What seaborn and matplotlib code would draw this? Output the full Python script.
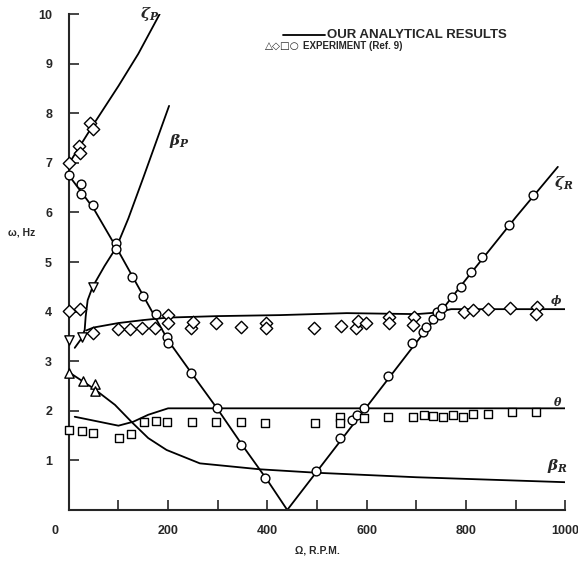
import numpy as np
import pandas as pd
import matplotlib
matplotlib.use('Agg')
import matplotlib.pyplot as plt
import seaborn as sns

# analytical curves
zeta_p_x = [0, 50, 100, 140, 183]
zeta_p_y = [6.98, 7.78, 8.55, 9.2, 10.0]

beta_p_x = [12, 25, 32, 34, 38, 48, 72, 96, 120, 150, 202]
beta_p_y = [3.27, 3.45, 3.63, 3.9, 4.23, 4.5, 4.92, 5.3, 5.88, 6.7, 8.15]

phi_x = [35, 50, 100, 150, 200, 300, 425, 560, 700, 740, 770, 1000]
phi_y = [3.62, 3.68, 3.77, 3.83, 3.88, 3.91, 3.93, 3.97, 3.95, 3.98, 4.05, 4.05]

theta_x = [12, 100, 130, 160, 200, 1000]
theta_y = [1.88, 1.70, 1.78, 1.92, 2.05, 2.05]

beta_r_x = [0, 50, 93, 127, 160, 197, 264, 385, 500, 700, 1000]
beta_r_y = [2.78, 2.45, 2.12, 1.77, 1.45, 1.21, 0.94, 0.82, 0.75, 0.66, 0.56]

zeta_r_x = [0, 50, 100, 150, 200, 250, 300, 350, 400, 440, 500, 600, 700, 800, 900, 985]
zeta_r_y = [6.75, 6.08, 5.22, 4.32, 3.42, 2.72, 2.03, 1.3, 0.6, 0.0, 0.78, 2.08, 3.38, 4.65, 5.9, 6.92]

# experiment (Ref. 9)
circ_x = [0, 24, 24, 48, 96, 96, 128, 149, 176, 198, 199, 247, 298, 347, 395,
          498, 546, 570, 580, 595, 643, 692, 714, 720, 734, 742, 748, 752, 772,
          790, 810, 833, 887, 935]
circ_y = [6.75, 6.57, 6.38, 6.15, 5.38, 5.26, 4.70, 4.31, 3.95, 3.49, 3.37, 2.76,
          2.06, 1.31, 0.65, 0.79, 1.45, 1.81, 1.92, 2.06, 2.70, 3.37, 3.59, 3.69,
          3.85, 3.99, 3.93, 4.07, 4.30, 4.50, 4.80, 5.10, 5.75, 6.35]

diam_x = [0, 20, 22, 43, 49, 0, 22, 48, 100, 123, 147, 173, 200, 200, 247, 250,
          296, 347, 397, 397, 494, 548, 579, 583, 599, 645, 645, 696, 694, 795,
          814, 845, 889, 944, 942]
diam_y = [7.0, 7.35, 7.2, 7.8, 7.68, 4.01, 4.05, 3.57, 3.65, 3.65, 3.67, 3.67,
          3.93, 3.77, 3.67, 3.8, 3.77, 3.7, 3.78, 3.68, 3.67, 3.71, 3.67, 3.81,
          3.77, 3.9, 3.77, 3.9, 3.73, 3.99, 4.03, 4.05, 4.07, 4.1, 3.95]

sq_x = [0, 26, 48, 101, 125, 151, 175, 198, 248, 296, 347, 395, 496, 546, 546,
        595, 643, 694, 716, 734, 754, 774, 794, 815, 845, 893, 942]
sq_y = [1.61, 1.59, 1.55, 1.46, 1.53, 1.78, 1.8, 1.78, 1.78, 1.77, 1.78, 1.75,
        1.75, 1.88, 1.75, 1.86, 1.88, 1.88, 1.92, 1.9, 1.88, 1.92, 1.88, 1.94,
        1.94, 1.98, 1.98]

tri_up_x = [0, 28, 52, 52]
tri_up_y = [2.76, 2.6, 2.55, 2.4]

tri_dn_x = [0, 26, 48]
tri_dn_y = [3.43, 3.49, 4.5]

x_ticks = list(range(0, 1001, 100))
x_labels = ['' if (t % 200 or t == 0) else str(t) for t in x_ticks]
y_ticks = list(range(0, 11))
y_labels = [''] + [str(t) for t in y_ticks[1:]]

sns.set_style("ticks")
plt.rcParams['font.family'] = ['Liberation Sans', 'DejaVu Sans']
plt.rcParams['font.weight'] = 'bold'
plt.rcParams['mathtext.fontset'] = 'dejavuserif'

fig = plt.figure(figsize=(5.78, 5.66), dpi=100, facecolor='white')
ax = fig.add_axes([0.119, 0.099, 0.859, 0.876])

curves = [(zeta_p_x, zeta_p_y), (beta_p_x, beta_p_y), (phi_x, phi_y),
          (theta_x, theta_y), (beta_r_x, beta_r_y), (zeta_r_x, zeta_r_y)]
for cx, cy in curves:
    sns.lineplot(x=cx, y=cy, ax=ax, sort=False, estimator=None,
                 color='black', linewidth=1.3)

mk = dict(facecolor='white', edgecolor='black', linewidth=1.0, clip_on=False, zorder=3)
sns.scatterplot(x=circ_x, y=circ_y, ax=ax, marker='o', s=40, **mk)
sns.scatterplot(x=diam_x, y=diam_y, ax=ax, marker='D', s=40, **mk)
sns.scatterplot(x=sq_x, y=sq_y, ax=ax, marker='s', s=40, **mk)
sns.scatterplot(x=tri_up_x, y=tri_up_y, ax=ax, marker='^', s=45, **mk)
sns.scatterplot(x=tri_dn_x, y=tri_dn_y, ax=ax, marker='v', s=45, **mk)

ax.set_xlim(0, 1000)
ax.set_ylim(0, 10)
ax.set_xticks(x_ticks)
ax.set_xticklabels(x_labels, fontsize=9, fontweight='bold')
ax.set_yticks(y_ticks)
ax.set_yticklabels(y_labels, fontsize=9, fontweight='bold')
ax.tick_params(axis='both', direction='in', length=7, width=1.2)
ax.tick_params(axis='y', pad=12)
ax.tick_params(axis='x', pad=11)
sns.despine(ax=ax)
for sp in ['left', 'bottom']:
    ax.spines[sp].set_linewidth(1.5)

ax.text(-0.028, -0.043, '0', transform=ax.transAxes, fontsize=9,
        fontweight='bold', ha='center', va='center')

ax.set_xlabel('Ω, R.P.M.', fontsize=7.5, fontweight='bold')
ax.xaxis.set_label_coords(0.5, -0.072)
ax.set_ylabel('ω, Hz', fontsize=7.5, fontweight='bold', rotation=0)
ax.yaxis.set_label_coords(-0.095, 0.55)

# curve labels
ax.text(163, 10.0, r'$\zeta_P$', fontsize=11, ha='center', va='center')
ax.text(222, 7.45, r'$\beta_P$', fontsize=11, ha='center', va='center')
ax.text(996, 6.6, r'$\zeta_R$', fontsize=11, ha='center', va='center')
ax.text(982, 4.22, r'$\phi$', fontsize=8, ha='center', va='center')
ax.text(984, 2.18, r'$\theta$', fontsize=8, ha='center', va='center')
ax.text(984, 0.88, r'$\beta_R$', fontsize=11, ha='center', va='center')

# key
ax.plot([0.432, 0.516], [0.958, 0.958], transform=ax.transAxes,
        color='black', linewidth=1.3, clip_on=False)
ax.text(0.521, 0.958, 'OUR ANALYTICAL RESULTS', transform=ax.transAxes,
        fontsize=9.5, fontweight='bold', va='center', ha='left')
ax.text(0.395, 0.935, '△◇□○', transform=ax.transAxes,
        fontsize=7.5, va='center', ha='left', family=['DejaVu Sans'])
ax.text(0.472, 0.935, 'EXPERIMENT (Ref. 9)', transform=ax.transAxes,
        fontsize=7, fontweight='bold', va='center', ha='left')

fig.savefig('out.png', dpi=100, facecolor='white')
